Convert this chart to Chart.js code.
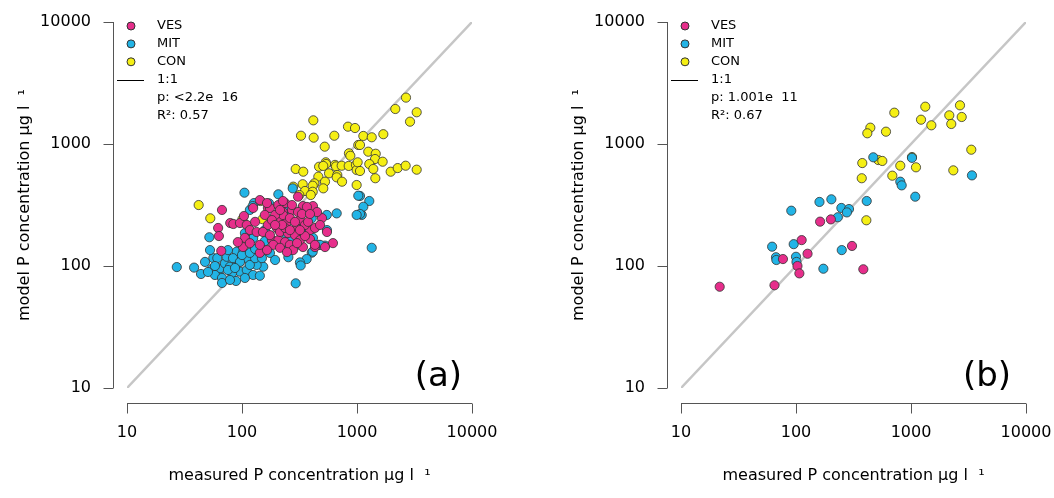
<!DOCTYPE html>
<html>
<head>
<meta charset="utf-8">
<script src="https://cdn.jsdelivr.net/npm/chart.js@4.4.1/dist/chart.umd.min.js"></script>
<style>
  html, body { margin: 0; padding: 0; background: #fff; }
  #wrap { position: relative; width: 1054px; height: 498px; }
  .panel { position: absolute; top: 0; width: 527px; height: 498px; }
</style>
</head>
<body>
<div id="wrap">
  <div class="panel" style="left:0"><canvas id="panel_a" width="527" height="498"></canvas></div>
  <div class="panel" style="left:527px"><canvas id="panel_b" width="527" height="498"></canvas></div>
</div>
<script>
// [measured, model] pairs, µg/l
const a_con = [[417,1563],[326,1169],[420,1127],[635,1169],[524,951],[835,1387],[961,1352],[1026,982],[851,839],[875,801],
  [293,624],[341,593],[535,708],[538,686],[468,651],[509,661],[644,674],[657,655],[736,664],[847,661],[979,674],
  [571,575],[674,557],[666,533],[461,540],[527,491],[741,491],[426,476],[412,455],[337,468],[279,447],[509,433],
  [353,412],[412,406],[315,382],[396,382],[993,612],[1013,708],[993,461],[145,341],[2667,2400],[2153,1936],
  [3304,1820],[2891,1524],[1135,1164],[1343,1135],[1694,1203],[1062,982],[1253,865],[1455,832],[1435,753],
  [1671,716],[1279,685],[1386,624],[1062,601],[1443,524],[1963,593],[2259,635],[2649,664],[3304,616],
  [42,316],[53,246],[101,242],[151,242]];
const a_mit = [[105,399],[207,387],[276,433],[172,326],[127,328],[1279,341],[1062,375],[1343,141],[1099,262],[1135,306],
  [117,288],[124,310],[1026,377],[1062,267],[546,262],[666,270],[52,172],[27.1,98],[38.3,97],[44,86],
  [56.3,116],[54.5,94.5],[63.1,85.5],[64.4,95.8],[71.1,105],[78.6,98.7],[89.9,108],[89.9,131],[102.6,131],[96,89.9],
  [110,92.7],[81.8,87.1],[88.7,75.4],[61,116],[73.6,119],[111,116],[404,246],[353,185],[319,204],[125,169],
  [158,160],[461,149],[527,147],[404,128.5],[365,114],[319,107],[324,101],[253,118],[153,98.7],[134,102],
  [125,84.4],[143,83.2],[293,72.1],[993,262],[47.7,108],[52.7,135],[58.2,84.4],[67,79.8],[75.5,92.7],[83.5,116],
  [96,108],[106,79.8],[117,102],[130,116],[75.5,135],[58.2,100],[86.9,96.3],[100,123],[50.6,89.3],[117,128],
  [149,116],[67,72.6],[78.6,76.8],[158,197],[246,179],[319,149],[106,186],[227,149],[175,128],[194,112],
  [261,163],[130,138],[414,170],[548,197],[253,288],[477,149],[412,131]];
const a_ves = [[67,288],[62,205],[63,176],[66,133],[79,225],[84,221],[96,225],[110,217],[104,257],[117,197],
  [102,143],[143,347],[168,299],[237,328],[339,310],[414,310],[496,247],[307,370],[618,154],[431,143],
  [339,143],[143,128],[125,299],[175,299],[227,277],[272,288],[307,277],[367,305],[449,277],[211,238],
  [246,230],[201,205],[301,205],[390,197],[431,205],[182,163],[207,163],[237,157],[261,149],[187,149],
  [143,149],[390,166],[431,149],[134,190],[130,230],[227,262],[261,247],[194,262],[214,190],[251,186],
  [289,179],[319,238],[353,217],[168,217],[152,190],[175,179],[272,316],[207,316],[237,205],[319,163],
  [158,262],[106,170],[92,157],[117,154],[165,135],[214,141],[278,135],[375,230],[332,267],[182,238],
  [223,217],[301,154],[227,341],[527,143],[246,130],[353,176],[261,197],[194,217],[289,230],[214,288],
  [165,328],[390,267],[477,217],[548,190],[319,197]];

const b_con = [[1331,2023],[2667,2075],[716,1806],[2153,1718],[2760,1665],[1222,1582],[1503,1423],[2240,1459],
  [443,1361],[417,1224],[606,1262],[3344,898],[520,739],[563,726],[377,698],[807,664],[1105,644],[2333,608],
  [688,550],[373,524],[409,237],[1020,782]];
const b_mit = [[470,778],[1020,770],[3390,553],[807,491],[830,458],[1089,370],[412,341],[160,335],[203,352],
  [248,299],[289,293],[277,275],[231,251],[91,284],[250,135],[173,95],[62,144],[95.5,151],[100,119],[101,108],
  [67,118],[67.5,112]];
const b_ves = [[112,163],[162,231],[201,241],[307,146],[126,126],[77,114],[103,100],[107,87],[385,94],[65,69.5],[21.7,67.6]];

const tickValues = [10, 100, 1000, 10000];
const groups = ['VES', 'MIT', 'CON'];
const groupColors = {VES: '#e62e8b', MIT: '#22b4e6', CON: '#f5ef14'};

Chart.defaults.font.family = 'DejaVu Sans';
Chart.defaults.color = '#000';

const toXY = pts => pts.map(p => ({x: p[0], y: p[1]}));

// offset R-style axes, legend and panel letter
const extras = {
  id: 'extras',
  afterDraw(chart, args, opts) {
    const ctx = chart.ctx, xs = chart.scales.x, ys = chart.scales.y, area = chart.chartArea;
    const ax = area.left - 14 + 0.5, ay = area.bottom + 15 + 0.5;
    ctx.save();
    ctx.strokeStyle = '#555';
    ctx.lineWidth = 1;
    ctx.beginPath();
    ctx.moveTo(ax, ys.getPixelForValue(tickValues[0]));
    ctx.lineTo(ax, ys.getPixelForValue(tickValues[tickValues.length - 1]));
    tickValues.forEach(v => {
      const p = Math.round(ys.getPixelForValue(v)) + 0.5;
      ctx.moveTo(ax - 10, p); ctx.lineTo(ax, p);
    });
    ctx.moveTo(xs.getPixelForValue(tickValues[0]), ay);
    ctx.lineTo(xs.getPixelForValue(tickValues[tickValues.length - 1]), ay);
    tickValues.forEach(v => {
      const p = Math.round(xs.getPixelForValue(v)) + 0.5;
      ctx.moveTo(p, ay); ctx.lineTo(p, ay + 10);
    });
    ctx.stroke();

    // legend
    const lx = area.left + 4, tx = area.left + 30, y0 = 26, step = 17.9;
    ctx.font = '13px "DejaVu Sans"';
    ctx.textBaseline = 'middle';
    ctx.textAlign = 'left';
    groups.forEach((g, i) => {
      ctx.beginPath();
      ctx.arc(lx, y0 + i * step, 4, 0, Math.PI * 2);
      ctx.fillStyle = groupColors[g];
      ctx.fill();
      ctx.strokeStyle = '#333';
      ctx.stroke();
      ctx.fillStyle = '#000';
      ctx.fillText(g, tx, y0 + i * step);
    });
    const ly = Math.round(y0 + 3 * step) + 0.5;
    ctx.beginPath();
    ctx.strokeStyle = '#000';
    ctx.moveTo(area.left - 10, ly); ctx.lineTo(area.left + 17, ly);
    ctx.stroke();
    ctx.fillText('1:1', tx, y0 + 3 * step);
    ctx.fillText(opts.pText, tx, y0 + 4 * step);
    ctx.fillText(opts.r2Text, tx, y0 + 5 * step);

    ctx.font = '34px "DejaVu Sans"';
    ctx.textAlign = 'right';
    ctx.textBaseline = 'alphabetic';
    ctx.fillText(opts.tag, area.right - opts.tagInset, area.bottom - 2);
    ctx.restore();
  }
};

function makePanel(id, sets, leftW, rightPad, titleOffset, pText, r2Text, tag, tagInset) {
  const datasets = [{
    type: 'line',
    label: '1:1',
    data: [{x: tickValues[0], y: tickValues[0]}, {x: tickValues[3], y: tickValues[3]}],
    borderColor: '#c6c6c6',
    borderWidth: 2.5,
    pointRadius: 0,
    order: 10
  }];
  groups.forEach((g, i) => {
    datasets.push({
      label: g,
      data: toXY(sets[g]),
      backgroundColor: groupColors[g],
      borderColor: 'rgba(50,50,50,0.8)',
      borderWidth: 1,
      pointRadius: 4.6,
      order: i
    });
  });
  const axisBase = {
    type: 'logarithmic',
    min: 10,
    max: 10000,
    grid: {display: false, drawTicks: false},
    border: {display: false},
    afterBuildTicks: s => { s.ticks = tickValues.map(v => ({value: v})); }
  };
  return new Chart(document.getElementById(id), {
    type: 'scatter',
    data: {datasets},
    options: {
      responsive: false,
      animation: false,
      events: [],
      layout: {padding: {left: 0, right: rightPad, top: 22, bottom: 0}},
      plugins: {
        legend: {display: false},
        tooltip: {enabled: false},
        extras: {pText, r2Text, tag, tagInset}
      },
      scales: {
        x: Object.assign({}, axisBase, {
          position: 'bottom',
          ticks: {font: {size: 16}, padding: 35, maxRotation: 0, callback: v => String(v)},
          title: {display: true, text: 'measured P concentration µg l  ¹', font: {size: 16}, padding: {top: 0, bottom: 13}},
          afterFit: s => { s.height = 110; s.paddingLeft = 0; s.paddingRight = 0; }
        }),
        y: Object.assign({}, axisBase, {
          position: 'left',
          ticks: {font: {size: 16}, padding: 36, callback: v => String(v)},
          title: {display: true, text: 'model P concentration µg l  ¹', font: {size: 16}, padding: {top: titleOffset, bottom: 0}},
          afterFit: s => { s.width = leftW; s.paddingTop = 0; s.paddingBottom = 0; }
        })
      }
    },
    plugins: [extras]
  });
}

makePanel('panel_a', {VES: a_ves, MIT: a_mit, CON: a_con}, 127, 55, 15, 'p: <2.2e  16', 'R²: 0.57', '(a)', 10);
makePanel('panel_b', {VES: b_ves, MIT: b_mit, CON: b_con}, 154, 28, 42, 'p: 1.001e  11', 'R²: 0.67', '(b)', 15);
</script>
</body>
</html>
